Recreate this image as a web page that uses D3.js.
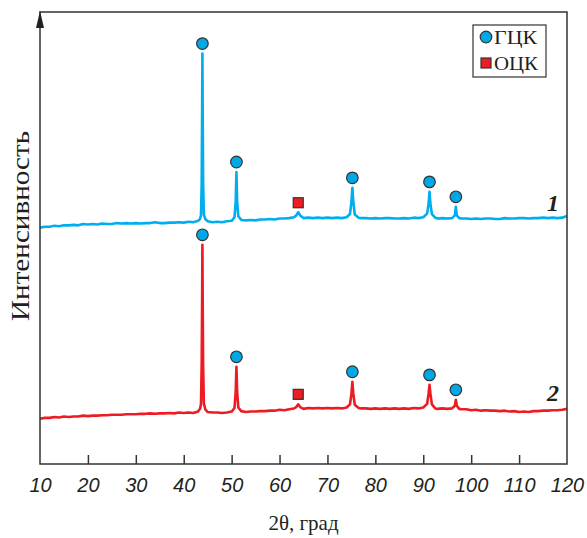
<!DOCTYPE html>
<html lang="ru">
<head>
<meta charset="utf-8">
<script src="https://d3js.org/d3.v7.min.js"></script>
<style>
  body { margin: 0; background: #fff; }
  svg text { fill: #231f20; }
</style>
</head>
<body>
<script>
// 2θ, degrees / intensity, arbitrary units (curve 1 is shifted up)
var curve1 = [
  [10,52.3],[11,52.5],[12,52.5],[13,52.7],[14,52.6],[15,52.8],[16,52.8],[17,52.9],[18,52.8],[19,53.1],
  [20,53.0],[21,53.1],[22,53.0],[23,53.2],[24,53.1],[25,53.1],[26,53.3],[27,53.2],[28,53.3],[29,53.2],
  [30,53.3],[31,53.2],[32,53.3],[33,53.3],[34,53.5],[35,53.3],[36,53.3],[37,53.4],[38,53.4],[39,53.5],
  [40,53.4],[41,53.6],[42,53.5],[43,53.8],[43.4,54.2],[43.6,55.0],[43.75,62],[43.85,80],[43.9,90.8],
  [43.95,80],[44.05,62],[44.2,55.2],[44.5,54.2],[45,53.7],[46,53.5],[47,53.6],[48,53.5],[49,53.7],
  [50,53.8],[50.6,54.6],[50.85,58],[51.0,64.6],[51.15,58],[51.4,54.8],[52,54.0],[53,53.9],[54,54.0],
  [55,53.9],[56,54.1],[57,54.1],[58,54.2],[59,54.1],[60,54.3],[61,54.3],[62,54.4],[63,54.6],[63.5,55.0],
  [63.9,55.7],[64.3,55.0],[65,54.4],[66,54.5],[67,54.4],[68,54.5],[69,54.4],[70,54.5],[71,54.4],[72,54.5],
  [73,54.4],[74,54.6],[74.7,55.3],[75.0,58],[75.2,61.1],[75.4,58],[75.7,55.2],[76.5,54.5],[77,54.4],
  [78,54.4],[79,54.3],[80,54.4],[81,54.3],[82,54.4],[83,54.4],[84,54.3],[85,54.3],[86,54.4],[87,54.3],
  [88,54.5],[89,54.4],[90,54.6],[90.8,55.4],[91.1,57.5],[91.3,60.2],[91.5,57.5],[91.8,55.3],[92.5,54.5],
  [93,54.3],[94,54.4],[95,54.3],[96,54.4],[96.6,55.0],[96.8,56.9],[97.0,55.0],[97.5,54.4],[98,54.3],
  [99,54.3],[100,54.2],[101,54.3],[102,54.2],[103,54.3],[104,54.3],[105,54.2],[106,54.2],[107,54.4],
  [108,54.3],[109,54.3],[110,54.4],[111,54.4],[112,54.3],[113,54.4],[114,54.4],[115,54.5],[116,54.4],
  [117,54.5],[118,54.4],[119,54.5],[120,54.9]
];

var curve2 = [
  [10,10.0],[11,10.2],[12,10.2],[13,10.4],[14,10.3],[15,10.5],[16,10.4],[17,10.5],[18,10.5],[19,10.7],
  [20,10.6],[21,10.7],[22,10.7],[23,10.8],[24,10.8],[25,10.9],[26,10.9],[27,10.9],[28,11.0],[29,11.0],
  [30,11.0],[31,11.1],[32,11.1],[33,11.2],[34,11.1],[35,11.2],[36,11.2],[37,11.3],[38,11.2],[39,11.4],
  [40,11.3],[41,11.4],[42,11.3],[43,11.6],[43.4,12.2],[43.6,13.2],[43.75,22],[43.85,38],[43.9,48.5],
  [43.95,38],[44.05,22],[44.2,13.4],[44.5,12.1],[45,11.5],[46,11.4],[47,11.4],[48,11.3],[49,11.4],
  [50,11.6],[50.6,12.4],[50.85,16],[51.0,21.5],[51.15,16],[51.4,12.5],[52,11.7],[53,11.5],[54,11.6],
  [55,11.6],[56,11.7],[57,11.7],[58,11.8],[59,11.8],[60,12.0],[61,11.9],[62,12.1],[63,12.3],[63.5,12.6],
  [63.9,13.2],[64.3,12.6],[65,12.2],[66,12.4],[67,12.3],[68,12.4],[69,12.3],[70,12.4],[71,12.3],[72,12.4],
  [73,12.3],[74,12.5],[74.7,13.2],[75.0,15.5],[75.2,18.2],[75.4,15.5],[75.7,13.1],[76.5,12.4],[77,12.3],
  [78,12.3],[79,12.2],[80,12.3],[81,12.2],[82,12.3],[83,12.2],[84,12.3],[85,12.2],[86,12.3],[87,12.2],
  [88,12.4],[89,12.3],[90,12.5],[90.8,13.3],[91.1,15.5],[91.3,17.5],[91.5,15.5],[91.8,13.2],[92.5,12.3],
  [93,12.2],[94,12.3],[95,12.2],[96,12.3],[96.6,12.9],[96.8,14.2],[97.0,12.9],[97.5,12.2],[98,12.1],
  [99,12.1],[100,11.9],[101,12.0],[102,11.8],[103,11.9],[104,11.8],[105,11.8],[106,11.7],[107,11.8],
  [108,11.6],[109,11.7],[110,11.5],[111,11.6],[112,11.5],[113,11.7],[114,11.7],[115,11.8],[116,11.8],
  [117,11.9],[118,11.9],[119,12.0],[120,12.2]
];

// peak markers: ГЦК (fcc) and ОЦК (bcc)
var fccPos = [43.9, 51.0, 75.2, 91.3, 96.8];
var fccTop1 = [90.8, 64.6, 61.1, 60.2, 56.9];
var fccTop2 = [48.5, 21.5, 18.2, 17.5, 14.2];
var bccPos = [63.9];
var bccTop1 = [55.7];
var bccTop2 = [13.2];

var xTicks = [10, 20, 30, 40, 50, 60, 70, 80, 90, 100, 110, 120];

var width = 587, height = 538;
var mLeft = 40, mRight = 567, mTop = 12, mBottom = 464;
var blue = "#00aeef", red = "#ed1c24", ink = "#333";
var serif = "Liberation Serif, Times New Roman, serif";

var svg = d3.select("body").append("svg")
    .attr("width", width)
    .attr("height", height);

var x = d3.scaleLinear().domain([10, 120]).range([mLeft, mRight]);
var y = d3.scaleLinear().domain([0, 100]).range([mBottom, mTop]);

// curves
var line = d3.line()
    .x(function (d) { return x(d[0]); })
    .y(function (d) { return y(d[1]); });

svg.append("path").datum(curve1)
    .attr("d", line)
    .attr("fill", "none")
    .attr("stroke", blue)
    .attr("stroke-width", 2.6)
    .attr("stroke-linejoin", "round");

svg.append("path").datum(curve2)
    .attr("d", line)
    .attr("fill", "none")
    .attr("stroke", red)
    .attr("stroke-width", 2.6)
    .attr("stroke-linejoin", "round");

// frame
svg.append("path")
    .attr("d", "M" + mLeft + "," + mTop + "H" + mRight + "V" + mBottom + "H" + mLeft + "Z")
    .attr("fill", "none")
    .attr("stroke", ink)
    .attr("stroke-width", 1.5);

// arrow on the y axis
svg.append("path")
    .attr("d", "M" + mLeft + "," + (mTop - 1) + "L" + (mLeft - 4) + "," + (mTop + 16) + "L" + (mLeft + 4) + "," + (mTop + 16) + "Z")
    .attr("fill", "#231f20");

// x axis
var xAxis = d3.axisBottom(x)
    .tickValues(xTicks)
    .tickSizeInner(-9)
    .tickSizeOuter(0)
    .tickPadding(14);

var gx = svg.append("g")
    .attr("transform", "translate(0," + mBottom + ")")
    .call(xAxis);
gx.select(".domain").remove();
gx.selectAll(".tick line")
    .attr("stroke", ink)
    .attr("stroke-width", 1.5)
    .attr("opacity", function (d) { return d === 10 || d === 120 ? 0 : 1; });
gx.selectAll(".tick text")
    .attr("font-family", "Liberation Sans, Arial, sans-serif")
    .attr("font-style", "italic")
    .attr("font-size", 20)
    .attr("fill", "#231f20");

// markers
function circles(tops, dy) {
    svg.selectAll(null).data(fccPos).enter().append("circle")
        .attr("cx", function (d) { return x(d); })
        .attr("cy", function (d, i) { return y(tops[i]) - dy; })
        .attr("r", 5.8)
        .attr("fill", "#00a8e6")
        .attr("stroke", ink)
        .attr("stroke-width", 1.2);
}
function squares(tops, dy) {
    svg.selectAll(null).data(bccPos).enter().append("rect")
        .attr("x", function (d) { return x(d) - 5; })
        .attr("y", function (d, i) { return y(tops[i]) - dy - 5; })
        .attr("width", 10)
        .attr("height", 10)
        .attr("fill", red)
        .attr("stroke", ink)
        .attr("stroke-width", 1.2);
}
circles(fccTop1, 10);
circles(fccTop2, 10);
squares(bccTop1, 9.5);
squares(bccTop2, 10);

// curve numbers
svg.append("text").text("1")
    .attr("x", 553).attr("y", 211)
    .attr("text-anchor", "middle")
    .attr("font-family", serif)
    .attr("font-style", "italic").attr("font-weight", "bold")
    .attr("font-size", 24);
svg.append("text").text("2")
    .attr("x", 553).attr("y", 401)
    .attr("text-anchor", "middle")
    .attr("font-family", serif)
    .attr("font-style", "italic").attr("font-weight", "bold")
    .attr("font-size", 24);

// legend
var lg = svg.append("g").attr("transform", "translate(473,25)");
lg.append("rect")
    .attr("width", 73).attr("height", 52)
    .attr("fill", "#fff")
    .attr("stroke", ink).attr("stroke-width", 1.2);
lg.append("circle")
    .attr("cx", 13).attr("cy", 12).attr("r", 5.8)
    .attr("fill", "#00a8e6").attr("stroke", ink).attr("stroke-width", 1.2);
lg.append("rect")
    .attr("x", 8).attr("y", 33).attr("width", 10).attr("height", 10)
    .attr("fill", red).attr("stroke", ink).attr("stroke-width", 1.2);
lg.append("text").text("ГЦК")
    .attr("x", 21).attr("y", 18.5)
    .attr("font-family", serif)
    .attr("font-size", 19)
    .attr("textLength", 43).attr("lengthAdjust", "spacingAndGlyphs");
lg.append("text").text("ОЦК")
    .attr("x", 21).attr("y", 45)
    .attr("font-family", serif)
    .attr("font-size", 19)
    .attr("textLength", 44).attr("lengthAdjust", "spacingAndGlyphs");

// axis titles
svg.append("text").text("2θ, град")
    .attr("x", (mLeft + mRight) / 2).attr("y", 530)
    .attr("text-anchor", "middle")
    .attr("font-family", serif)
    .attr("font-size", 21);

svg.append("text").text("Интенсивность")
    .attr("transform", "translate(29,226) rotate(-90)")
    .attr("text-anchor", "middle")
    .attr("font-family", serif)
    .attr("font-size", 25)
    .attr("textLength", 190).attr("lengthAdjust", "spacingAndGlyphs");
</script>
</body>
</html>
